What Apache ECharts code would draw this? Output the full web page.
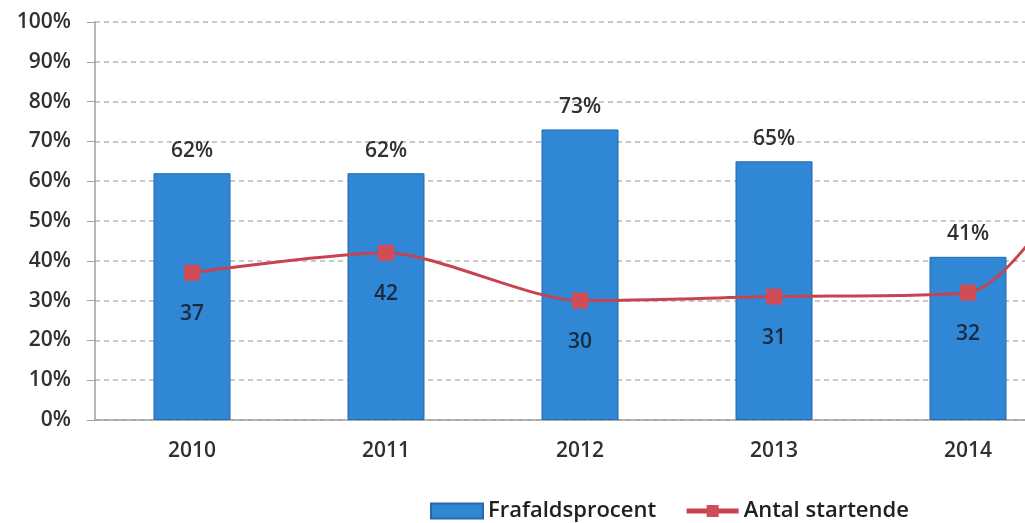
<!DOCTYPE html>
<html>
<head>
<meta charset="utf-8">
<script src="https://cdn.jsdelivr.net/npm/echarts@6/dist/echarts.min.js"></script>
<style>
  html, body { margin: 0; padding: 0; background: #fff; }
  #chart { width: 1025px; height: 523px; }
</style>
</head>
<body>
<div id="chart"></div>
<script>
// years - the last one is cut off at the right edge in the original
var years = ['2010', '2011', '2012', '2013', '2014', '2015'];
var frafaldsprocent = [62, 62, 73, 65, 41, null];
var antalStartende = [37, 42, 30, 31, 32, 98];

var myChart = echarts.init(document.getElementById('chart'));
var option = {
	animation: false,
	textStyle: { fontFamily: 'Open Sans' },
	grid: {
		left: 95,
		top: 22,
		bottom: 103,
		width: 1164, // 6 bands of 194px, the 6th falls outside the picture
		outerBoundsMode: 'none',
		containLabel: false
	},
	legend: {
		left: 425,
		top: 495,
		itemWidth: 52,
		itemHeight: 15,
		itemGap: 28,
		textStyle: { fontSize: 22, color: '#202020', fontFamily: 'Open Sans', fontWeight: 600 },
		data: [
			{ name: 'Frafaldsprocent', icon: 'rect' },
			{ name: 'Antal startende', lineStyle: { width: 5 } }
		]
	},
	xAxis: {
		type: 'category',
		data: years,
		axisLine: { lineStyle: { color: '#a0a0a0', width: 1.5 } },
		axisTick: { show: false },
		axisLabel: { color: '#303030', fontSize: 21, fontWeight: 600, margin: 21 }
	},
	yAxis: {
		type: 'value',
		min: 0,
		max: 100,
		interval: 10,
		axisLine: { show: true, lineStyle: { color: '#a0a0a0', width: 1.5 } },
		axisTick: { show: true, length: 8, lineStyle: { color: '#a0a0a0' } },
		axisLabel: { color: '#303030', fontSize: 21, fontWeight: 600, margin: 24, formatter: '{value}%' },
		splitLine: { lineStyle: { color: '#b8b8b8', type: [5, 4], width: 1.5 } }
	},
	series: [
		{
			name: 'Frafaldsprocent',
			type: 'bar',
			data: frafaldsprocent,
			barWidth: 77,
			itemStyle: { color: '#2f87d5', borderColor: '#2569a8', borderWidth: 1 },
			label: {
				show: true,
				position: 'top',
				distance: 12,
				formatter: '{c}%',
				color: '#303030',
				fontSize: 21,
				fontWeight: 600
			}
		},
		{
			name: 'Antal startende',
			type: 'line',
			data: antalStartende,
			smooth: 0.25,
			symbol: 'rect',
			symbolSize: 16,
			lineStyle: { color: '#c8434f', width: 3 },
			itemStyle: { color: '#cf4d57' },
			label: {
				show: true,
				position: 'bottom',
				distance: 23,
				color: '#1a2a40',
				fontSize: 21,
				fontWeight: 600
			}
		}
	]
};
myChart.setOption(option);
</script>
</body>
</html>
